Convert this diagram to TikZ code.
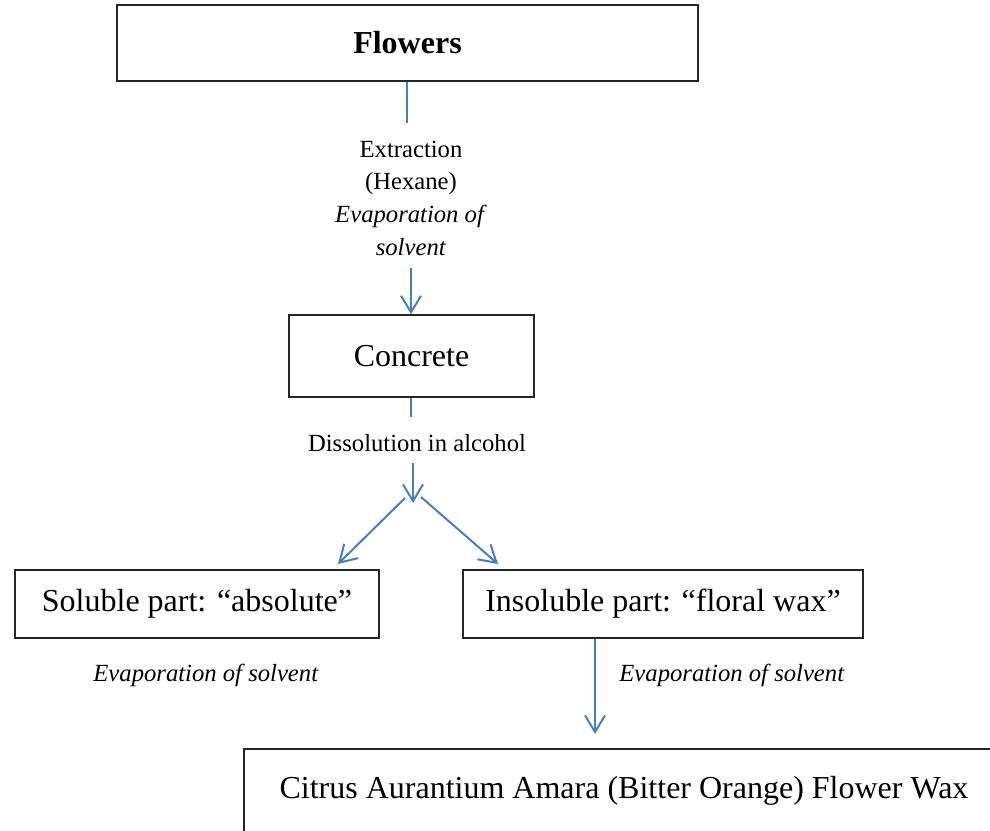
\documentclass[tikz,border=0pt]{standalone}
\usepackage{fontspec}
\setmainfont{Liberation Serif}
\usetikzlibrary{arrows.meta}
\definecolor{flowblue}{RGB}{74,126,187}
\begin{document}
\begin{tikzpicture}[x=0.75pt,y=-0.75pt]
        \tikzstyle{stepbox}=[draw=black!85,line width=1pt,shape=rectangle,inner sep=0pt,font=\fontsize{24}{29}\selectfont];
        \tikzstyle{note}=[inner sep=0pt,align=center,font=\fontsize{18.5}{24.5}\selectfont];
        \tikzstyle{link}=[draw=flowblue,line width=1.5pt];
        \tikzstyle{tip}=[-{Straight Barb[length=12.5pt,width=15pt,line width=1.5pt]}];
        \clip (0,0) rectangle (990,831);
        %\node (name) at (x,y) [stepbox,minimum width=..,minimum height=..] {text};
        \node (flowers) at (407.5,43) [stepbox,minimum width=435.75pt,minimum height=57pt] {\textbf{Flowers}};
        \node (concrete) at (411.5,356) [stepbox,minimum width=183.75pt,minimum height=61.5pt] {Concrete};
        \node (soluble) at (197,604) [stepbox,minimum width=273pt,minimum height=51pt] {Soluble part: “absolute”};
        \node (insoluble) at (663,604) [stepbox,minimum width=300pt,minimum height=51pt] {Insoluble part: “floral wax”};
        \node (wax) at (624,791) [stepbox,minimum width=570pt,minimum height=63pt] {Citrus Aurantium Amara (Bitter Orange) Flower Wax};
        \node (extraction) at (411,198) [note] {Extraction\\(Hexane)\\\textit{Evaporation of}\\\textit{solvent}};
        \node (dissolution) at (417,443) [note] {Dissolution in alcohol};
        \node (evapleft) at (206,675) [note] {\textit{Evaporation of solvent}};
        \node (evapright) at (732,675) [note] {\textit{Evaporation of solvent}};
        \coordinate (ex1) at (407,123);
        \coordinate (ex2) at (411,268);
        \coordinate (di1) at (411,417);
        \coordinate (di2) at (413,463);
        \coordinate (di3) at (413,503);
        \coordinate (sp1) at (405,498);
        \coordinate (sp2) at (421,497);
        \coordinate (so1) at (338,564);
        \coordinate (in1) at (498,564);
        \coordinate (wx1) at (595,734);
        \draw[link] (flowers.south -| ex1) -- (ex1);
        \draw[link,tip] (ex2) -- (concrete.north -| ex2);
        \draw[link] (concrete.south -| di1) -- (di1);
        \draw[link,tip] (di2) -- (di3);
        \draw[link,tip] (sp1) -- (so1);
        \draw[link,tip] (sp2) -- (in1);
        \draw[link,tip] (insoluble.south -| wx1) -- (wx1);
    \end{tikzpicture}
\end{document}
